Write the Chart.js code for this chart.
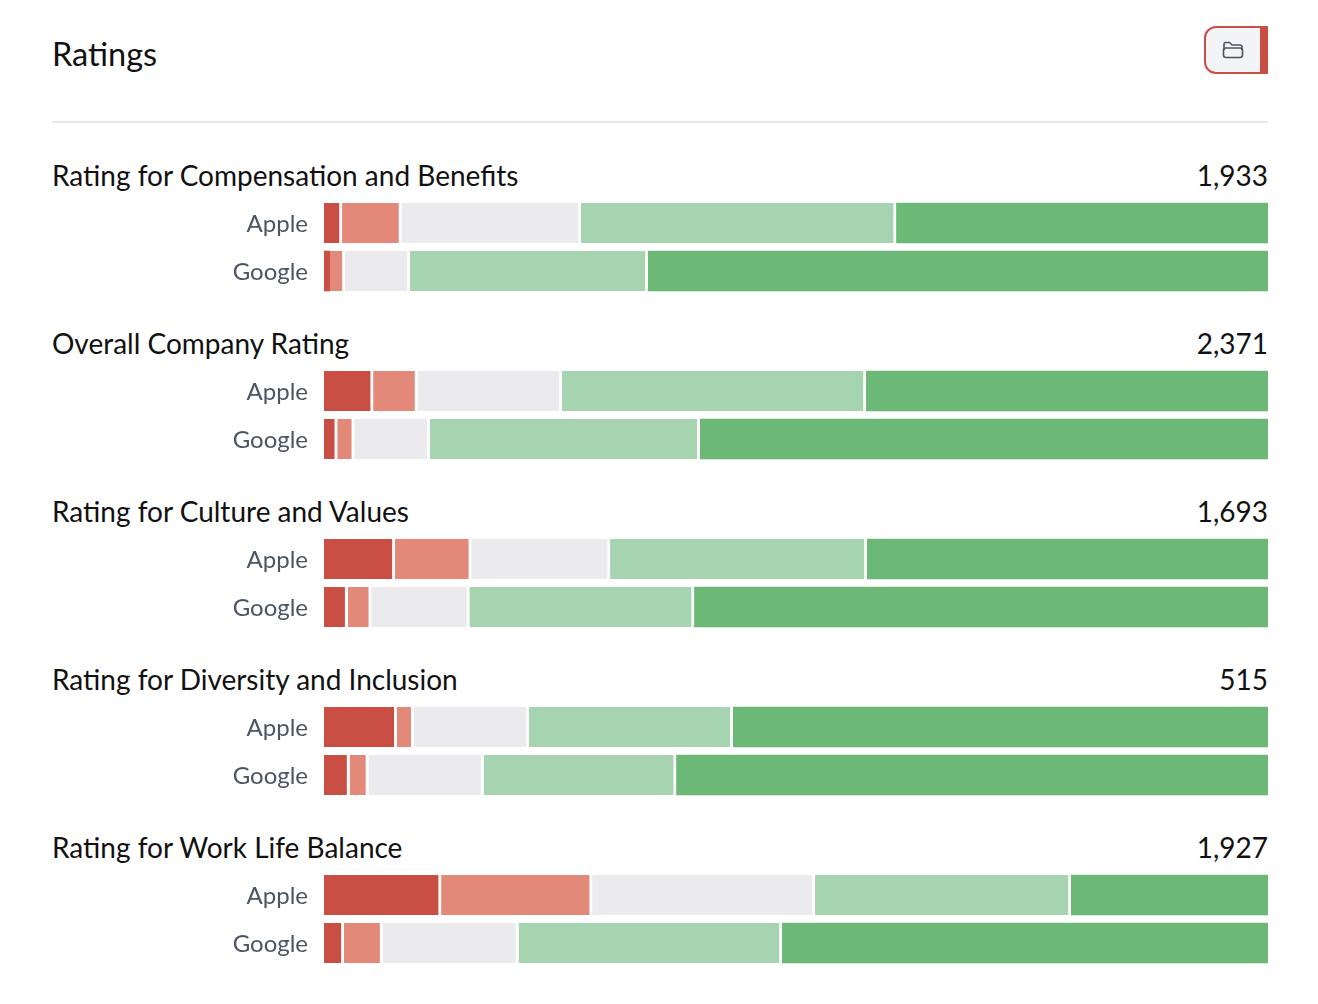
<!DOCTYPE html>
<html>
<head>
<meta charset="utf-8">
<title>Ratings</title>
<script src="https://cdn.jsdelivr.net/npm/chart.js@4"></script>
<style>
  html, body { margin: 0; background: #fff; font-family: Lato, sans-serif; }
  #page { position: relative; width: 1216px; margin-left: 52px; }
  #header { position: relative; height: 121px; border-bottom: 2px solid #e5e7eb; }
  #header h1 { position: absolute; left: 0; top: 34px; margin: 0; font-size: 32.5px; line-height: 40px; font-weight: 400; color: #111; }
  #btn { position: absolute; right: 0; top: 26px; width: 64px; height: 48px; box-sizing: border-box; background: #f3f4f6; border: 2px solid #c94f44; border-right-width: 8px; border-radius: 12px 0 0 12px; }
  #btn svg { position: absolute; left: 16px; top: 13px; }
  .group { position: relative; height: 168px; }
  .head { position: absolute; left: 0; right: 0; top: 0; height: 48px; display: flex; justify-content: space-between; align-items: center; font-size: 28px; color: #111; }
  .box { position: absolute; left: 0; top: 48px; width: 1216px; height: 96px; }
</style>
</head>
<body>
<div id="page">
  <div id="header">
    <h1>Ratings</h1>
    <div id="btn">
      <svg width="22" height="18" viewBox="0 0 22 18" fill="none" stroke="#4b5563" stroke-width="1.6" stroke-linejoin="round">
        <path d="M2 9V3.5C2 2.4 2.8 1.5 3.8 1.5H7.5L10 4H18C19.2 4 20 4.8 20 6V9"/>
        <rect x="1.5" y="7" width="19" height="9.5" rx="2.5"/>
      </svg>
    </div>
  </div>
  <div id="groups"></div>
</div>
<script>
const companies = ['Apple', 'Google'];
const groupTitles = [
  'Rating for Compensation and Benefits',
  'Overall Company Rating',
  'Rating for Culture and Values',
  'Rating for Diversity and Inclusion',
  'Rating for Work Life Balance',
];
const totals = ['1,933', '2,371', '1,693', '515', '1,927'];

// share of answers in percent, [Apple, Google] for each group
const veryLow = [[1.9, 0.6], [5.2, 1.4], [7.5, 2.5], [7.7, 2.7], [12.4, 2.1]];
const low = [[6.3, 1.6], [4.7, 1.8], [8.1, 2.5], [1.8, 2.0], [16.0, 4.1]];
const neutral = [[19.0, 6.9], [15.3, 8.0], [14.7, 10.4], [12.2, 12.2], [23.6, 14.4]];
const high = [[33.4, 25.2], [32.2, 28.6], [27.2, 23.8], [21.6, 20.4], [27.1, 27.9]];
const veryHigh = [[39.4, 65.7], [42.6, 60.2], [42.5, 60.8], [56.7, 62.7], [20.9, 51.5]];

const seriesNames = ['1 star', '2 stars', '3 stars', '4 stars', '5 stars'];
const seriesValues = [veryLow, low, neutral, high, veryHigh];
const seriesColors = ['#c94f44', '#e28979', '#ebebed', '#a6d4b1', '#6cb877'];

Chart.defaults.font.family = 'Lato, sans-serif';
Chart.defaults.animation = false;

const groupsEl = document.getElementById('groups');

groupTitles.forEach((title, g) => {
  const group = document.createElement('div');
  group.className = 'group';
  if (g === 0) group.style.marginTop = '28px';

  const head = document.createElement('div');
  head.className = 'head';
  const name = document.createElement('span');
  name.textContent = title;
  const total = document.createElement('span');
  total.textContent = totals[g];
  head.append(name, total);

  const box = document.createElement('div');
  box.className = 'box';
  const canvas = document.createElement('canvas');
  box.appendChild(canvas);
  group.append(head, box);
  groupsEl.appendChild(group);

  new Chart(canvas, {
    type: 'bar',
    data: {
      labels: companies,
      datasets: seriesNames.map((label, s) => ({
        label,
        data: seriesValues[s][g],
        backgroundColor: seriesColors[s],
        borderColor: '#fff',
        borderSkipped: false,
        // white divider between segments, very thin segments go without
        borderWidth: (c) => ({
          top: 0,
          left: 0,
          bottom: 0,
          right: s < 4 && c.raw >= 1 ? 3 : 0,
        }),
        barThickness: 40,
      })),
    },
    options: {
      indexAxis: 'y',
      responsive: true,
      maintainAspectRatio: false,
      layout: { padding: 0 },
      plugins: { legend: { display: false } },
      scales: {
        x: { stacked: true, display: false, min: 0, max: 100 },
        y: {
          stacked: true,
          // fixed label column, and no extra room above and below the rows
          afterFit: (axis) => {
            axis.width = 272;
            axis.paddingTop = 0;
            axis.paddingBottom = 0;
          },
          grid: { display: false },
          border: { display: false },
          ticks: { color: '#4b5563', font: { size: 24 }, padding: 8, labelOffset: 1 },
        },
      },
    },
  });
});
</script>
</body>
</html>
